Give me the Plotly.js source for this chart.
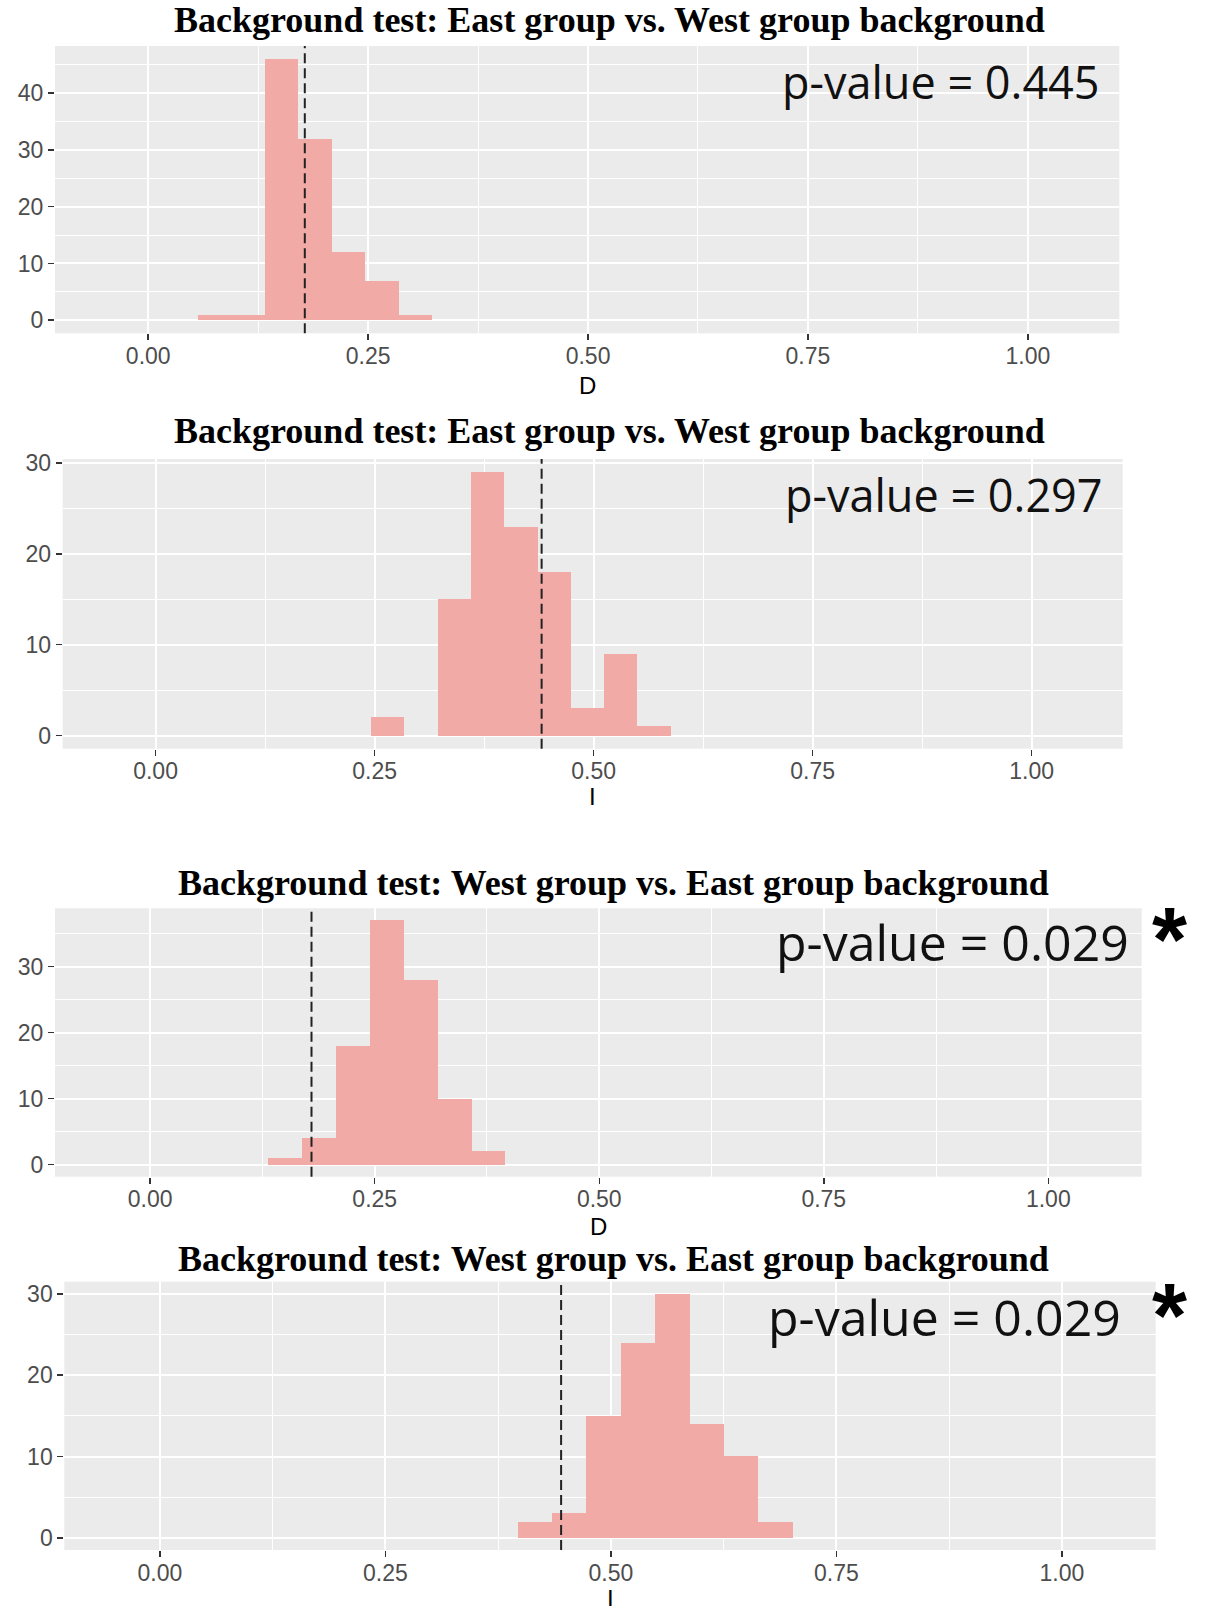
<!DOCTYPE html>
<html>
<head>
<meta charset="utf-8">
<script src="https://cdn.plot.ly/plotly-3.0.1.min.js"></script>
<style>
  html, body { margin: 0; padding: 0; background: #ffffff; }
  #chart { width: 1206px; height: 1606px; }
</style>
</head>
<body>
<div id="chart"></div>
<script>
// ---- Null-model histograms (counts per bin) and observed overlap values ----
const titles = [
  'Background test: East group vs. West group background',
  'Background test: East group vs. West group background',
  'Background test: West group vs. East group background',
  'Background test: West group vs. East group background'
];
const metricNames = ['D', 'I', 'D', 'I'];

// left edge of each bin
const binLeft1 = [0.0563, 0.0944, 0.1325, 0.1706, 0.2087, 0.2468, 0.2849];
const binLeft2 = [0.246, 0.284, 0.322, 0.360, 0.398, 0.436, 0.474, 0.512, 0.550];
const binLeft3 = [0.131, 0.1688, 0.2066, 0.2444, 0.2822, 0.3200, 0.3578];
const binLeft4 = [0.3965, 0.4347, 0.4728, 0.5110, 0.5491, 0.5873, 0.6254, 0.6636];
const binWidths = [0.0381, 0.038, 0.0378, 0.03815];

const counts1 = [1, 1, 46, 32, 12, 7, 1];
const counts2 = [2, 0, 15, 29, 23, 18, 3, 9, 1];
const counts3 = [1, 4, 18, 37, 28, 10, 2];
const counts4 = [2, 3, 15, 24, 30, 14, 10, 2];

const observed = [0.178, 0.4407, 0.1796, 0.4448];
const pValues = ['0.445', '0.297', '0.029', '0.029'];
const significant = [false, false, true, true];

const xTickVals = [0, 0.25, 0.5, 0.75, 1.0];
const xTickText = ['0.00', '0.25', '0.50', '0.75', '1.00'];
const yTickVals = [0, 10, 20, 30, 40];

// ---- page geometry (pixels) ----
const W = 1206, H = 1606;
const fx = p => p / W;
const fy = p => 1 - p / H;

// plot boxes: [left, right, top, bottom]
const boxes = [
  [55, 1119.3, 46, 333.3],
  [62.7, 1122.7, 459, 748.7],
  [55, 1141.7, 908.3, 1176.7],
  [64.3, 1155.7, 1281.7, 1550]
];
const titleY = [20, 431, 883, 1259];
const titleX = [609, 609, 613, 613];
const axisTitleY = [386, 796, 1226, 1598];
const pLabelPos = [[941, 82, 45], [944, 494, 45], [952, 942, 50], [944, 1317, 50]];
const starPos = [[1169, 940], [1169, 1316]];

const lefts = [binLeft1, binLeft2, binLeft3, binLeft4];
const countsAll = [counts1, counts2, counts3, counts4];

const barColor = '#F1AAA6';
const panelBg = '#EBEBEB';
const tickFont = { family: 'Liberation Sans, Arial, sans-serif', size: 23, color: '#4D4D4D' };

const data = [];
const layout = {
  width: W, height: H,
  margin: { l: 0, r: 0, t: 0, b: 0 },
  paper_bgcolor: '#ffffff',
  plot_bgcolor: panelBg,
  showlegend: false,
  bargap: 0,
  annotations: [],
  shapes: []
};

for (let i = 0; i < 4; i++) {
  const k = i === 0 ? '' : String(i + 1);
  const xa = 'x' + k, ya = 'y' + k;
  const counts = countsAll[i];
  const maxC = Math.max(...counts);
  const b = boxes[i];

  data.push({
    type: 'bar',
    x: lefts[i],
    y: counts,
    width: binWidths[i],
    offset: 0,
    xaxis: xa, yaxis: ya,
    marker: { color: barColor, line: { width: 0 } },
    hoverinfo: 'x+y'
  });

  layout['xaxis' + k] = {
    domain: [fx(b[0]), fx(b[1])],
    anchor: ya,
    range: [-0.106, 1.104],
    tickmode: 'array', tickvals: xTickVals, ticktext: xTickText,
    ticks: 'outside', ticklen: 6, tickwidth: 1.5, tickcolor: '#333333',
    ticklabelstandoff: -4,
    tickfont: tickFont,
    showgrid: true, gridcolor: '#ffffff', gridwidth: 2,
    minor: { tickmode: 'array', tickvals: [0.125, 0.375, 0.625, 0.875], showgrid: true, gridcolor: '#ffffff', gridwidth: 1, ticks: '' },
    zeroline: false, showline: false, fixedrange: true
  };
  layout['yaxis' + k] = {
    domain: [fy(b[3]), fy(b[2])],
    anchor: xa,
    range: [-0.05 * maxC, 1.05 * maxC],
    tickmode: 'array', tickvals: yTickVals.filter(v => v <= maxC * 1.05),
    ticks: 'outside', ticklen: 6, tickwidth: 1.5, tickcolor: '#333333',
    tickfont: tickFont,
    showgrid: true, gridcolor: '#ffffff', gridwidth: 2,
    minor: { tickmode: 'array', tickvals: [5, 15, 25, 35, 45], showgrid: true, gridcolor: '#ffffff', gridwidth: 1, ticks: '' },
    zeroline: false, showline: false, fixedrange: true
  };

  // observed value: dashed vertical reference line
  layout.shapes.push({
    type: 'line', xref: xa, yref: ya + ' domain',
    x0: observed[i], x1: observed[i], y0: 0, y1: 1,
    line: { color: '#222222', width: 2, dash: '10px,5px' }
  });

  // panel title
  layout.annotations.push({
    xref: 'paper', yref: 'paper', x: fx(titleX[i]), y: fy(titleY[i]),
    xanchor: 'center', yanchor: 'middle', showarrow: false,
    text: '<b>' + titles[i] + '</b>',
    font: { family: 'Liberation Serif, Times New Roman, serif', size: 36, color: '#000000' }
  });

  // x-axis name
  layout.annotations.push({
    xref: xa + ' domain', yref: 'paper', x: 0.5, y: fy(axisTitleY[i]),
    xanchor: 'center', yanchor: 'middle', showarrow: false,
    text: metricNames[i],
    font: { family: 'Liberation Sans, Arial, sans-serif', size: 24, color: '#000000' }
  });

  // p-value label
  const pl = pLabelPos[i];
  layout.annotations.push({
    xref: 'paper', yref: 'paper', x: fx(pl[0]), y: fy(pl[1]),
    xanchor: 'center', yanchor: 'middle', showarrow: false,
    text: 'p-value = ' + pValues[i],
    font: { family: 'Open Sans, Noto Sans, sans-serif', size: pl[2], color: '#111111' }
  });
}

// significance marks
let s = 0;
for (let i = 0; i < 4; i++) {
  if (!significant[i]) continue;
  const sp = starPos[s++];
  layout.annotations.push({
    xref: 'paper', yref: 'paper', x: fx(sp[0]), y: fy(sp[1]),
    xanchor: 'center', yanchor: 'middle', showarrow: false,
    text: '<b>*</b>',
    font: { family: 'Liberation Sans, Arial, sans-serif', size: 90, color: '#000000' }
  });
}

Plotly.newPlot('chart', data, layout, { staticPlot: true, displayModeBar: false });
</script>
</body>
</html>
